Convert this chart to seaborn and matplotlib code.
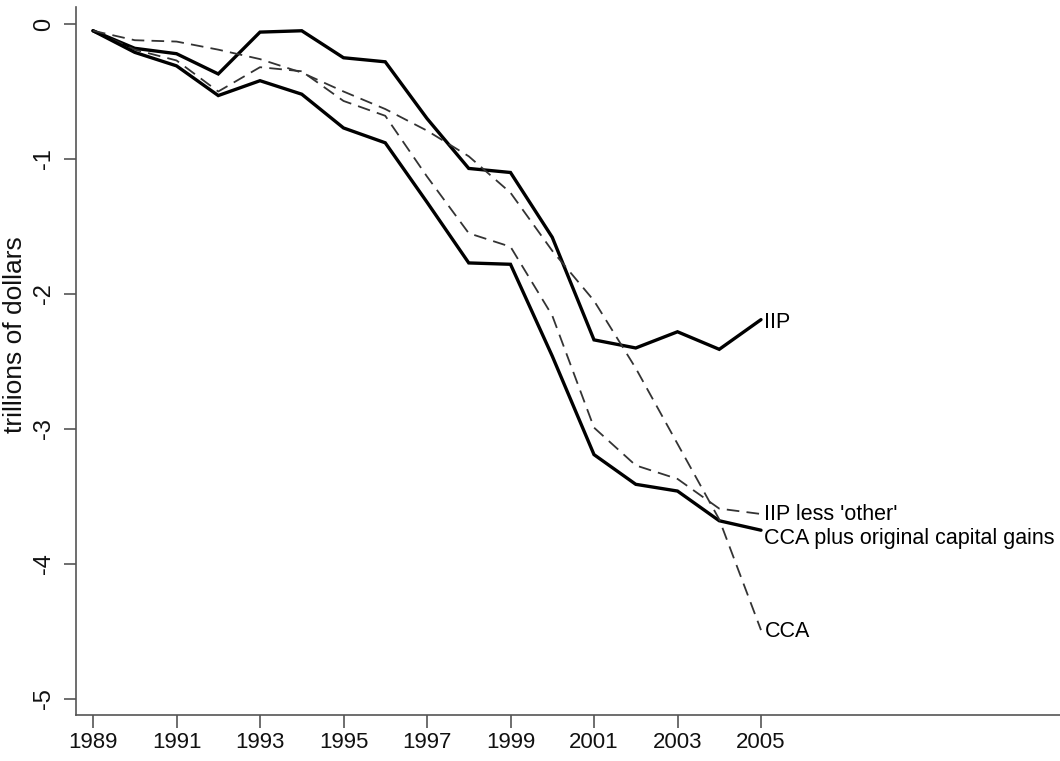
import matplotlib
matplotlib.use("Agg")
import matplotlib.pyplot as plt
import seaborn as sns
import pandas as pd

years = list(range(1989, 2006))
iip = [-0.05, -0.18, -0.22, -0.37, -0.06, -0.05, -0.25, -0.28, -0.70, -1.07,
       -1.10, -1.58, -2.34, -2.40, -2.28, -2.41, -2.19]
cca_plus = [-0.05, -0.21, -0.31, -0.53, -0.42, -0.52, -0.77, -0.88, -1.32, -1.77,
            -1.78, -2.46, -3.19, -3.41, -3.46, -3.68, -3.75]
iip_less = [-0.05, -0.19, -0.27, -0.50, -0.32, -0.35, -0.57, -0.68, -1.13, -1.55,
            -1.65, -2.16, -2.99, -3.27, -3.37, -3.59, -3.63]
cca = [-0.05, -0.12, -0.13, -0.19, -0.26, -0.36, -0.50, -0.63, -0.79, -0.98,
       -1.25, -1.68, -2.05, -2.55, -3.11, -3.67, -4.49]
series_names = ["IIP", "IIP less 'other'", "CCA plus original capital gains", "CCA"]
x_ticks = list(range(1989, 2006, 2))
y_ticks = [0, -1, -2, -3, -4, -5]
y_label = "trillions of dollars"

sns.set_style("ticks")
plt.rcParams["font.family"] = ["Liberation Sans", "DejaVu Sans"]

fig = plt.figure(figsize=(10.6, 7.61), dpi=100)
ax = fig.add_axes([76 / 1060, 1 - 715 / 761, (1060 - 76) / 1060, (715 - 7) / 761])

styles = {
    "IIP": dict(data=iip, color="black", lw=2.4, dash=None),
    "CCA plus original capital gains": dict(data=cca_plus, color="black", lw=2.4, dash=None),
    "IIP less 'other'": dict(data=iip_less, color="#333333", lw=1.3, dash=(7, 4)),
    "CCA": dict(data=cca, color="#333333", lw=1.3, dash=(7, 4)),
}
label_y = {
    "IIP": iip[-1] - 0.02,
    "IIP less 'other'": iip_less[-1],
    "CCA plus original capital gains": cca_plus[-1] - 0.06,
    "CCA": cca[-1] - 0.01,
}

for name in series_names:
    st = styles[name]
    df = pd.DataFrame({"year": years, "value": st["data"]})
    sns.lineplot(data=df, x="year", y="value", ax=ax, color=st["color"],
                 linewidth=st["lw"])
    line = ax.lines[-1]
    line.set_solid_joinstyle("miter")
    if st["dash"] is not None:
        line.set_dashes(st["dash"])
    ax.annotate(name, xy=(years[-1], label_y[name]), xytext=(2.5, 0),
                textcoords="offset points", ha="left", va="center",
                fontsize=15.5, color="black")

ax.set_xlim(1989 + (76 - 93) / 41.75, 1989 + (1060 - 93) / 41.75)
ax.set_ylim(-5.119, 0.126)
ax.set_xticks(x_ticks)
ax.set_xticklabels([str(t) for t in x_ticks], fontsize=16)
ax.set_yticks(y_ticks)
ax.set_yticklabels([str(t) for t in y_ticks], fontsize=17, rotation=90, va="center")
ax.set_xlabel("")
ax.set_ylabel("")
for s in ["top", "right"]:
    ax.spines[s].set_visible(False)
for s in ["left", "bottom"]:
    ax.spines[s].set_color("#555555")
    ax.spines[s].set_linewidth(1.2)
ax.tick_params(axis="both", direction="out", length=9, width=1.2, color="#555555",
               labelcolor="#111111")
ax.tick_params(axis="x", pad=3)
ax.tick_params(axis="y", pad=6)
fig.text(15 / 1060, 1 - 335 / 761, y_label, rotation=90, ha="center", va="center",
         fontsize=19, color="#111111")

fig.savefig("out.png", dpi=100)
